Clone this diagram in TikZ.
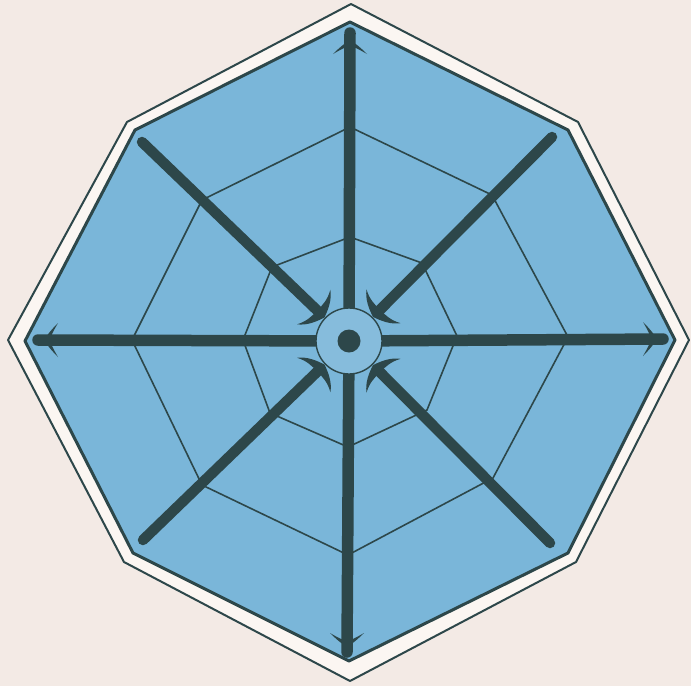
\documentclass[tikz,border=0pt]{standalone}
\usetikzlibrary{calc}
\definecolor{bgcream}{HTML}{F3EAE5}
\definecolor{bandwhite}{HTML}{FBF6F2}
\definecolor{skyfill}{HTML}{7AB6D9}
\definecolor{hubfill}{HTML}{86BCDC}
\definecolor{darkink}{HTML}{2D474A}
\tikzset{
  rimline/.style={draw=darkink, line width=2pt, line join=round},
  plateline/.style={draw=darkink, fill=skyfill, line width=3pt, line join=round},
  gridline/.style={draw=darkink, line width=1.6pt, line join=round},
  axisline/.style={draw=darkink, line width=11.5pt, line cap=round},
  diagline/.style={draw=darkink, line width=10.5pt, line cap=round},
  inhead/.pic={\fill[darkink] (0,0) .. controls (-3,9) and (-7,18) .. (-15,24)
      .. controls (-10,15) and (-10,8) .. (-10,0)
      .. controls (-10,-8) and (-10,-15) .. (-15,-24)
      .. controls (-7,-18) and (-3,-9) .. (0,0) -- cycle;},
  outhead/.pic={\fill[darkink] (0,0) .. controls (-3,5) and (-8,11) .. (-14,17)
      .. controls (-10,10) and (-7,5) .. (-6,0)
      .. controls (-7,-5) and (-10,-10) .. (-14,-17)
      .. controls (-8,-11) and (-3,-5) .. (0,0) -- cycle;}
}
\begin{document}
\begin{tikzpicture}[x=1pt,y=-1pt]
\fill[bgcream] (0,0) rectangle (691,686);
\useasboundingbox (0,0) rectangle (691,686);
% outer rim
\path[rimline, fill=bandwhite] (351,4) -- (578,122) -- (689,340) -- (576,562) -- (350,681) -- (124,562) -- (8,340) -- (127,122) -- cycle;
% blue plate
\path[plateline] (350,22) -- (568,130) -- (675,340) -- (568,553) -- (349,661) -- (133,553) -- (25,341) -- (135,130) -- cycle;
% grid octagons
\path[gridline] (350,127) -- (492,195) -- (568,337) -- (493,478) -- (348,555) -- (202,485) -- (132,340) -- (202,200) -- cycle;
\path[gridline] (350,237) -- (422,263) -- (457,336) -- (427,410) -- (348,447) -- (270,413) -- (243,340) -- (272,267) -- cycle;
% coordinates
\coordinate (c) at (349,341);
\coordinate (tE) at (350,33);
\coordinate (bE) at (347,652);
\coordinate (lE) at (38,340);
\coordinate (rE) at (663,339);
\coordinate (ul) at (142,142);
\coordinate (ur) at (552,137);
\coordinate (ll) at (143,540);
\coordinate (lr) at (550,543);
% axis lines
\draw[axisline] (tE) -- (c);
\draw[axisline] (bE) -- (c);
\draw[axisline] (lE) -- (c);
\draw[axisline] (rE) -- (c);
% outer barbs
\pic[rotate=90] at (350,40) {outhead};
\pic[rotate=-90] at (347,647) {outhead};
\pic[rotate=0] at (657,339) {outhead};
\pic[rotate=180] at (44,340) {outhead};
% hub
\node[circle, fill=hubfill, draw=darkink, line width=1.4pt, minimum size=66pt, inner sep=0pt] (hub) at (c) {};
\node[circle, fill=darkink, minimum size=23pt, inner sep=0pt] (dot) at (c) {};
% diagonal arrows
\coordinate (ulT) at ($(c)!34pt!(ul)$);
\coordinate (urT) at ($(c)!34pt!(ur)$);
\coordinate (llT) at ($(c)!34pt!(ll)$);
\coordinate (lrT) at ($(c)!34pt!(lr)$);
\draw[diagline] (ul) -- ($(c)!44pt!(ul)$);
\draw[diagline] (ur) -- ($(c)!44pt!(ur)$);
\draw[diagline] (ll) -- ($(c)!44pt!(ll)$);
\draw[diagline] (lr) -- ($(c)!44pt!(lr)$);
\pic[rotate=-43.9] at (ulT) {inhead};
\pic[rotate=225.2] at (urT) {inhead};
\pic[rotate=44.0] at (llT) {inhead};
\pic[rotate=134.8] at (lrT) {inhead};
\end{tikzpicture}
\end{document}
